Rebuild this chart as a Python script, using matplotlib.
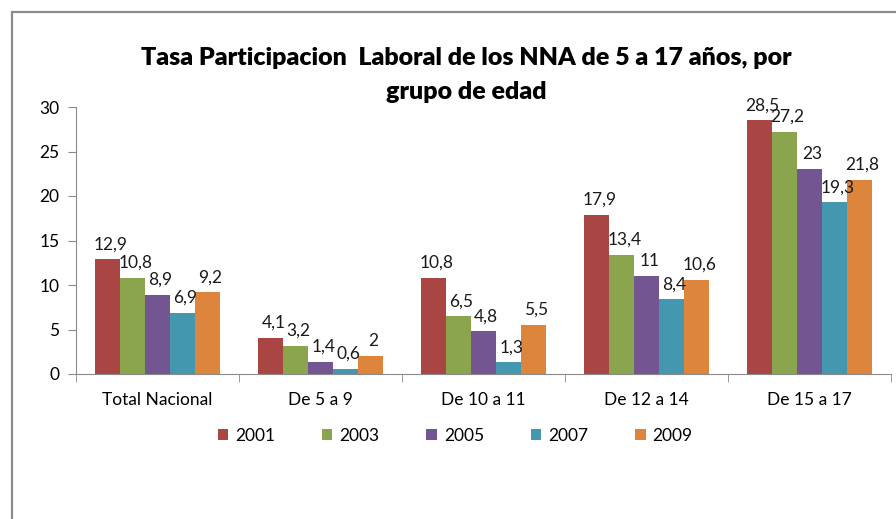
import numpy as np
import matplotlib.pyplot as plt
from matplotlib.patches import Rectangle

plt.rcParams['font.family'] = ['Lato', 'DejaVu Sans']

groups = ["Total Nacional", "De 5 a 9", "De 10 a 11", "De 12 a 14", "De 15 a 17"]
years = ["2001", "2003", "2005", "2007", "2009"]
v2001 = [12.9, 4.1, 10.8, 17.9, 28.5]
v2003 = [10.8, 3.2, 6.5, 13.4, 27.2]
v2005 = [8.9, 1.4, 4.8, 11.0, 23.0]
v2007 = [6.9, 0.6, 1.3, 8.4, 19.3]
v2009 = [9.2, 2.0, 5.5, 10.6, 21.8]
series = [v2001, v2003, v2005, v2007, v2009]

colors = ["#A94543", "#8AA54E", "#735592", "#4398B0", "#DD843D"]

fig = plt.figure(figsize=(8.96, 5.19), dpi=100)
ax = fig.add_axes([76 / 896, 1 - 374 / 519, (891 - 76) / 896, (374 - 107) / 519])

# outer chart frame (only left and top are visible)
fig.patches.append(Rectangle((12 / 896, -0.2), 1.2, 1.2 - 12 / 519,
                             transform=fig.transFigure, fill=False,
                             edgecolor="#8a8a8a", linewidth=1.6))

x = np.arange(len(groups))
w = 0.153
for i, (vals, col) in enumerate(zip(series, colors)):
    pos = x + (i - 2) * w
    ax.bar(pos, vals, width=w, color=col, label=years[i], linewidth=0)
    for p, v in zip(pos, vals):
        txt = f"{v:g}".replace(".", ",")
        ax.annotate(txt, (p, v), xytext=(2, 5), textcoords="offset points",
                    ha="center", va="bottom", fontsize=12.5, color="#1a1a1a")

ax.set_xlim(-0.5, len(groups) - 0.5)
ax.set_ylim(0, 30)
ax.set_yticks(range(0, 31, 5))
ax.set_xticks(x)
ax.set_xticklabels(groups, fontsize=12.5)
ax.set_xticks(np.arange(-0.5, len(groups), 1), minor=True)
ax.tick_params(axis="x", which="major", length=0, pad=13)
ax.tick_params(axis="x", which="minor", length=6, color="#8a8a8a")
ax.tick_params(axis="y", length=6, color="#8a8a8a", labelsize=12.5, pad=6)
for s in ["top", "right"]:
    ax.spines[s].set_visible(False)
for s in ["left", "bottom"]:
    ax.spines[s].set_color("#8a8a8a")

title_lines = ["Tasa Participacion  Laboral de los NNA de 5 a 17 años, por", "grupo de edad"]
for line, ty in zip(title_lines, [58, 92]):
    fig.text(466 / 896, 1 - ty / 519, line, ha="center", va="center",
             fontsize=18, fontweight="heavy")

ax.legend(loc="center", bbox_to_anchor=(0.508, 1 - 436 / 519), bbox_transform=fig.transFigure,
          ncol=5, frameon=False, fontsize=12.5, handlelength=0.6, handleheight=0.6,
          handletextpad=0.4, columnspacing=2.7)

fig.savefig("out.png", dpi=100)
plt.close(fig)
